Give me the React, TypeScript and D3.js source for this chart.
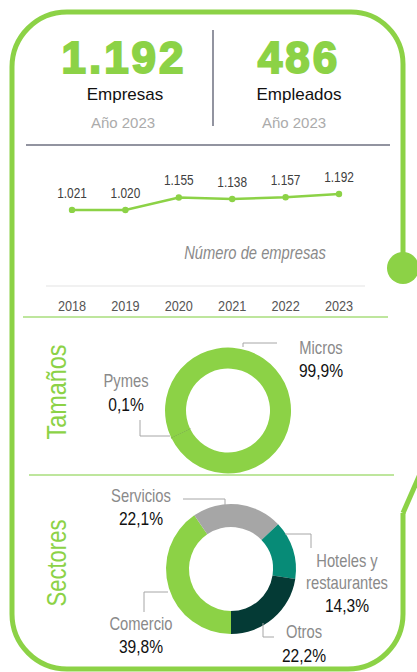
import * as d3 from "d3";

// header figures
const empresasTotal = "1.192";
const empleadosTotal = "486";
const periodo = "Año 2023";

// line chart: number of companies per year
const years = ["2018", "2019", "2020", "2021", "2022", "2023"];
const empresas = [1021, 1020, 1155, 1138, 1157, 1192];

// donut 1: sizes
const tamanosNames = ["Pymes", "Micros"];
const tamanosValues = [0.1, 99.9];

// donut 2: sectors
const sectoresNames = ["Comercio", "Servicios", "Hoteles y restaurantes", "Otros"];
const sectoresValues = [39.8, 22.1, 14.3, 22.2];

const GREEN = "#8CD246";
const LIGHT_GREEN = "#A8DE7C";
const GREY_LINE = "#A6A6A6";
const sectorColors = ["#8CD246", "#A6A6A6", "#078B77", "#043A35"];

const es = d3.formatLocale({ decimal: ",", thousands: ".", grouping: [3], currency: ["", "€"] });
const fmtInt = es.format(",d");
const fmtPct = (v: number) => es.format(".1f")(v) + "%";

const font = "'Liberation Sans', Arial, sans-serif";

// condensed text: regular Arial squeezed horizontally (no narrow face installed)
function NText({ x, y, size, fill, italic, children }: any) {
  return (
    <text
      transform={`translate(${x},${y}) scale(0.82,1)`}
      textAnchor="middle"
      fontSize={size}
      fill={fill}
      fontStyle={italic ? "italic" : undefined}
    >
      {children}
    </text>
  );
}

// label layout (relative to donut centre)
const tamanosLayout = [
  { leader: [[-58, 25.5], [-88, 25.5], [-88, 9.5]], x: -102, lines: [-23.5], pctY: 0.5 },
  { leader: [[15, -63.5], [15, -67.5], [49, -67.5]], x: 93, lines: [-56.5], pctY: -33.5 },
];
const sectoresLayout = [
  { leader: [[-63, 23], [-87, 23], [-87, 43]], x: -90, lines: [61], pctY: 84 },
  { leader: [[-6, -64], [-6, -70], [-48, -70]], x: -90, lines: [-67], pctY: -44 },
  { leader: [[54, -35], [80, -35], [80, -21]], x: 116, lines: [-2, 20], pctY: 43 },
  { leader: [[32, 54], [32, 68], [43, 68]], x: 73, lines: [69], pctY: 93 },
];

function Donut({ cx, cy, rOuter, rInner, names, values, colors, startDeg, layout, splitNames }: any) {
  const start = (startDeg * Math.PI) / 180;
  const pie = d3
    .pie<number>()
    .sort(null)
    .value((d) => d)
    .startAngle(start)
    .endAngle(start + 2 * Math.PI);
  const arc = d3.arc<d3.PieArcDatum<number>>().innerRadius(rInner).outerRadius(rOuter);
  const arcs = pie(values);
  return (
    <g transform={`translate(${cx},${cy})`}>
      {arcs.map((a, i) => (
        <path
          key={i}
          d={arc(a) || ""}
          fill={colors[i]}
          stroke={values[i] < 1 ? "#5E8540" : "none"}
          strokeWidth={values[i] < 1 ? 0.8 : 0}
        />
      ))}
      {layout.map((l: any, i: number) => {
        const nameLines = splitNames ? splitNames(names[i]) : [names[i]];
        return (
          <g key={i}>
            <polyline points={l.leader.map((p: number[]) => p.join(",")).join(" ")} fill="none" stroke={GREY_LINE} strokeWidth={1} />
            {nameLines.map((t: string, j: number) => (
              <NText key={j} x={l.x} y={l.lines[j]} size={18} fill="#8A8A8A">
                {t}
              </NText>
            ))}
            <NText x={l.x} y={l.pctY} size={19} fill="#111">
              {fmtPct(values[i])}
            </NText>
          </g>
        );
      })}
    </g>
  );
}

export default function App() {
  const x = d3.scalePoint().domain(years).range([72, 339]);
  const y = d3.scaleLinear().domain([1020, 1192]).range([210, 194]);
  const line = d3
    .line<number>()
    .x((_, i) => x(years[i]) as number)
    .y((d) => y(d));
  const [x0, x1] = x.range();

  const frame = "M403,513 V614 A55,55 0 0 1 348,669 H67 A55,55 0 0 1 12,614 V67 A55,55 0 0 1 67,12 H351 A52,52 0 0 1 403,64 V268";

  return (
    <svg
      width={417}
      height={672}
      viewBox="0 0 417 672"
      style={{ position: "absolute", left: 0, top: 0, fontFamily: font }}
    >
      <rect width={417} height={672} fill="#fff" />
      {/* frame */}
      <path d={frame} fill="none" stroke={GREEN} strokeWidth={5} />
      <line x1={403} y1={513} x2={420} y2={474} stroke={GREEN} strokeWidth={5} />
      <circle cx={403} cy={268} r={16} fill={GREEN} />

      {/* header */}
      <g fontFamily={font}>
        <text x={124} y={73} textAnchor="middle" fontSize={44} fontWeight={700} fill={GREEN} stroke={GREEN} strokeWidth={2} letterSpacing={3}>
          {empresasTotal}
        </text>
        <text x={299} y={73} textAnchor="middle" fontSize={44} fontWeight={700} fill={GREEN} stroke={GREEN} strokeWidth={2} letterSpacing={3}>
          {empleadosTotal}
        </text>
        <text x={125} y={100} textAnchor="middle" fontSize={17} fill="#111">Empresas</text>
        <text x={299} y={100} textAnchor="middle" fontSize={17} fill="#111">Empleados</text>
        <text x={123} y={128} textAnchor="middle" fontSize={15} fill="#ABABAB">{periodo}</text>
        <text x={294} y={128} textAnchor="middle" fontSize={15} fill="#ABABAB">{periodo}</text>
        <line x1={213} y1={30} x2={213} y2={126} stroke="#6E7080" strokeWidth={1.5} />
        <line x1={26} y1={145} x2={390} y2={145} stroke="#6E7080" strokeWidth={1.5} />
      </g>

      {/* line chart */}
      <path d={line(empresas) || ""} fill="none" stroke={GREEN} strokeWidth={2.5} />
      {empresas.map((v, i) => (
        <g key={years[i]}>
          <circle cx={x(years[i])} cy={y(v)} r={3.2} fill={GREEN} />
          <NText x={x(years[i])} y={y(v) - 12} size={14.5} fill="#404040">
            {fmtInt(v)}
          </NText>
        </g>
      ))}
      <NText x={255} y={259} size={18} italic fill="#8A8A8A">
        Número de empresas
      </NText>
      <line x1={x0 - 26} x2={x1 + 26} y1={286} y2={286} stroke="#E3E3E3" strokeWidth={1} />
      {years.map((yr) => (
        <NText key={yr} x={x(yr)} y={311} size={15.5} fill="#555">
          {yr}
        </NText>
      ))}
      <line x1={23} x2={388} y1={317} y2={317} stroke={LIGHT_GREEN} strokeWidth={1.5} />

      {/* sizes */}
      <text transform="translate(66,392) rotate(-90)" textAnchor="middle" fontSize={27} fill={GREEN} textLength={95} lengthAdjust="spacingAndGlyphs">
        Tamaños
      </text>
      <Donut
        cx={228}
        cy={410.5}
        rOuter={63}
        rInner={42}
        names={tamanosNames}
        values={tamanosValues}
        colors={[GREEN, GREEN]}
        startDeg={244}
        layout={tamanosLayout}
      />
      <line x1={29} x2={394} y1={475} y2={475} stroke={LIGHT_GREEN} strokeWidth={1.5} />

      {/* sectors */}
      <text transform="translate(66,563) rotate(-90)" textAnchor="middle" fontSize={27} fill={GREEN} textLength={87} lengthAdjust="spacingAndGlyphs">
        Sectores
      </text>
      <Donut
        cx={231}
        cy={569}
        rOuter={65}
        rInner={42}
        names={sectoresNames}
        values={sectoresValues}
        colors={sectorColors}
        startDeg={180}
        layout={sectoresLayout}
        splitNames={(n: string) => (n === "Hoteles y restaurantes" ? ["Hoteles y", "restaurantes"] : [n])}
      />
    </svg>
  );
}
